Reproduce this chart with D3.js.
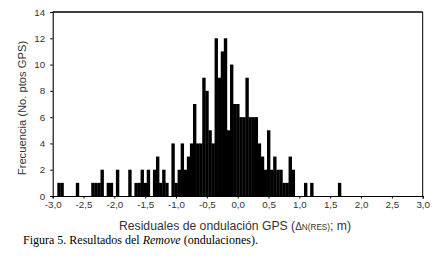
<!DOCTYPE html>
<html>
<head>
<meta charset="utf-8">
<script src="https://cdn.jsdelivr.net/npm/d3@7"></script>
<style>
  body { margin: 0; background: #fff; }
  svg { display: block; }
</style>
</head>
<body>
<div id="chart"></div>
<script>
// histogram data: bin centres (m) and counts, bin width 0.05 m
const binWidth = 0.05;
const binCenters = [
    -2.90, -2.85, -2.60, -2.35, -2.30, -2.25, -2.20, -2.10, -2.05, -1.95,
    -1.75, -1.65, -1.60, -1.55, -1.50, -1.45, -1.35, -1.30, -1.25, -1.20,
    -1.15, -1.05, -1.00, -0.95, -0.90, -0.85, -0.80, -0.75, -0.70, -0.65,
    -0.60, -0.55, -0.50, -0.45, -0.40, -0.35, -0.30, -0.25, -0.20, -0.15,
    -0.10, -0.05, 0.00, 0.05, 0.10, 0.15, 0.20, 0.25, 0.30, 0.35,
    0.40, 0.45, 0.50, 0.55, 0.60, 0.65, 0.70, 0.75, 0.80, 0.85,
    0.90, 1.10, 1.20, 1.65
];
const counts = [
    1, 1, 1, 1, 1, 1, 2, 1, 1, 2,
    2, 1, 1, 2, 1, 2, 2, 3, 1, 2,
    1, 4, 1, 2, 4, 2, 3, 4, 7, 4,
    4, 9, 8, 5, 4, 12, 9, 11, 12, 5,
    10, 7, 7, 6, 6, 9, 6, 6, 6, 4,
    3, 2, 5, 2, 3, 2, 2, 1, 1, 3,
    2, 1, 1, 1
];
const xTicks = [-3, -2.5, -2, -1.5, -1, -0.5, 0, 0.5, 1, 1.5, 2, 2.5, 3];
const yTicks = [0, 2, 4, 6, 8, 10, 12, 14];

const W = 437, H = 257;
const margin = { top: 12, right: 14.3, bottom: 61, left: 52.7 };
const width = W - margin.left - margin.right;
const height = H - margin.top - margin.bottom;

const locale = d3.formatLocale({ decimal: ',', thousands: '.', grouping: [3], currency: ['', ''], minus: '-' });
const fmt = locale.format('.1f');

const root = d3.select('#chart')
    .append('svg')
    .attr('width', W)
    .attr('height', H);

const svg = root.append('g')
    .attr('transform', 'translate(' + margin.left + ',' + margin.top + ')');

const x = d3.scaleLinear().domain([-3, 3]).range([0, width]);
const y = d3.scaleLinear().domain([0, 14]).range([height, 0]);

// bars
svg.append('g')
    .selectAll('rect')
    .data(binCenters)
    .enter()
    .append('rect')
    .attr('x', d => x(d - binWidth / 2))
    .attr('width', d => x(d + binWidth / 2) - x(d - binWidth / 2) + 0.3)
    .attr('y', (d, i) => y(counts[i]))
    .attr('height', (d, i) => y(0) - y(counts[i]))
    .attr('fill', '#000');

// frame (top and right)
svg.append('line')
    .attr('x1', 0).attr('x2', width)
    .attr('y1', 0).attr('y2', 0)
    .attr('stroke', '#000').attr('stroke-width', 1.4);
svg.append('line')
    .attr('x1', width).attr('x2', width)
    .attr('y1', 0).attr('y2', height)
    .attr('stroke', '#000').attr('stroke-width', 1);

// axes
const xAxis = svg.append('g')
    .attr('transform', 'translate(0,' + height + ')')
    .call(d3.axisBottom(x).tickValues(xTicks).tickFormat(fmt).tickSize(2.5).tickPadding(3));
const yAxis = svg.append('g')
    .call(d3.axisLeft(y).tickValues(yTicks).tickSize(2.5).tickPadding(5));

[xAxis, yAxis].forEach(a => {
    a.select('.domain').attr('stroke', '#000').attr('stroke-width', 1.1);
    a.selectAll('.tick line').attr('stroke', '#000');
    a.selectAll('.tick text')
        .attr('fill', '#333')
        .style('font-family', '"Liberation Sans", Arial, sans-serif')
        .style('font-size', '9.8px');
});

// axis titles
root.append('text')
    .attr('transform', 'translate(26,108) rotate(-90)')
    .attr('text-anchor', 'middle')
    .attr('fill', '#333')
    .style('font-family', '"Liberation Sans", Arial, sans-serif')
    .style('font-size', '11.2px')
    .text('Frecuencia (No. ptos GPS)');

const xt = root.append('text')
    .attr('x', 235)
    .attr('y', 230)
    .attr('text-anchor', 'middle')
    .attr('fill', '#333')
    .style('font-family', '"Liberation Sans", Arial, sans-serif')
    .style('font-size', '12.2px');
xt.append('tspan').text('Residuales de ondulación GPS (');
xt.append('tspan').style('font-size', '10px').text('Δ');
xt.append('tspan').style('font-size', '8.2px').text('N(RES)');
xt.append('tspan').text('; m)');

// caption
const cap = root.append('text')
    .attr('x', 23)
    .attr('y', 244)
    .attr('fill', '#000')
    .style('font-family', '"Liberation Serif", "Times New Roman", serif')
    .style('font-size', '12px');
cap.append('tspan').text('Figura 5. Resultados del ');
cap.append('tspan').style('font-style', 'italic').text('Remove');
cap.append('tspan').text(' (ondulaciones).');
</script>
</body>
</html>
